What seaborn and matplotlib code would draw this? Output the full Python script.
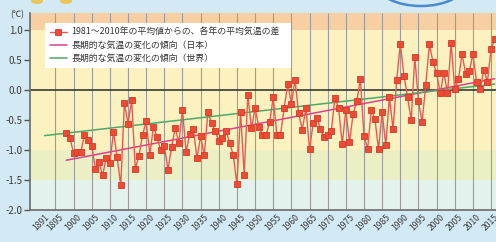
import numpy as np
import pandas as pd
import matplotlib
matplotlib.use("Agg")
import matplotlib.pyplot as plt
import seaborn as sns
from matplotlib.patches import Arc, Ellipse

# ---------------- data ----------------
years = list(range(1898, 2017))
anomaly = (
    [-0.72, -0.80]                                                        # 1898-1899
    + [-1.05, -1.03, -1.03, -0.75, -0.84, -0.93, -1.31, -1.20, -1.42, -1.13]  # 1900s
    + [-1.21, -0.70, -1.12, -1.59, -0.22, -0.56, -0.17, -1.31, -1.10, -0.75]  # 1910s
    + [-0.52, -1.08, -0.61, -0.78, -1.00, -0.93, -1.33, -0.95, -0.63, -0.88]  # 1920s
    + [-0.33, -1.04, -0.73, -0.65, -1.14, -0.77, -1.09, -0.37, -0.55, -0.68]  # 1930s
    + [-0.85, -0.80, -0.68, -0.88, -1.09, -1.57, -0.37, -1.41, -0.08, -0.64]  # 1940s
    + [-0.30, -0.61, -0.75, -0.75, -0.54, -0.12, -0.75, -0.75, -0.30, 0.10]   # 1950s
    + [-0.23, 0.17, -0.39, -0.66, -0.30, -0.99, -0.55, -0.46, -0.65, -0.79]   # 1960s
    + [-0.75, -0.68, -0.13, -0.30, -0.90, -0.33, -0.87, -0.40, -0.19, 0.19]   # 1970s
    + [-0.77, -0.98, -0.33, -0.48, -0.99, -0.37, -0.92, -0.12, -0.65, 0.16]   # 1980s
    + [0.77, 0.24, -0.12, -0.50, 0.55, -0.19, -0.53, 0.08, 0.76, 0.47]        # 1990s
    + [0.28, -0.05, 0.29, -0.05, 0.78, 0.01, 0.18, 0.60, 0.27, 0.31]          # 2000s
    + [0.60, 0.14, 0.01, 0.34, 0.14, 0.68, 0.85]                              # 2010-2016
)
japan_trend_years = [1898, 2016]
japan_trend = [-1.17, 0.19]
world_trend_years = [1892, 2016]
world_trend = [-0.76, 0.10]

tick_years = [1891, 1895, 1900, 1905, 1910, 1915, 1920, 1925, 1930, 1935, 1940,
              1945, 1950, 1955, 1960, 1965, 1970, 1975, 1980, 1985, 1990, 1995,
              2000, 2005, 2010, 2015]
grid_years = tick_years[1:]
y_ticks = [1.0, 0.5, 0.0, -0.5, -1.0, -1.5, -2.0]

label_data = "1981～2010年の平均値からの、各年の平均気温の差"
label_japan = "長期的な気温の変化の傾向（日本）"
label_world = "長期的な気温の変化の傾向（世界）"
unit_label = "(℃)"

df = pd.DataFrame({"year": years, "anomaly": anomaly})
df_jp = pd.DataFrame({"year": japan_trend_years, "value": japan_trend})
df_w = pd.DataFrame({"year": world_trend_years, "value": world_trend})

# ---------------- style ----------------
sns.set_theme(style="white")
plt.rcParams["font.family"] = ["Noto Sans CJK JP", "DejaVu Sans"]
plt.rcParams["axes.unicode_minus"] = False

W, H = 496, 242
fig = plt.figure(figsize=(W / 100, H / 100), dpi=100, facecolor="#d3eaf4")
ax = fig.add_axes([30 / W, 1 - 210 / H, 466 / W, (210 - 13.3) / H])
ax.set_xlim(1888.0, 2016.36)
ax.set_ylim(-2.0, 1.28)

# background bands
ax.axhspan(1.0, 1.28, color="#f8cfa2", zorder=0, lw=0)
ax.axhspan(-1.0, 1.0, color="#fbf2bf", zorder=0, lw=0)
ax.axhspan(-1.5, -1.0, color="#ecefc3", zorder=0, lw=0)
ax.axhspan(-2.0, -1.5, color="#e3f2ec", zorder=0, lw=0)

ax.vlines(grid_years, -2.0, 1.28, color="#9c9c9c", lw=0.8, zorder=1)
ax.axhline(0, color="#2a2a2a", lw=1.1, zorder=2)

sns.lineplot(data=df, x="year", y="anomaly", ax=ax, color="#e85a50", lw=1.0,
             marker="s", markersize=5.0, markerfacecolor="#ee4a34",
             markeredgecolor="#d23a28", markeredgewidth=0.6,
             label=label_data, zorder=4)
sns.lineplot(data=df_jp, x="year", y="value", ax=ax, color="#d9448a", lw=1.1,
             label=label_japan, zorder=3)
sns.lineplot(data=df_w, x="year", y="value", ax=ax, color="#4fa86a", lw=1.1,
             label=label_world, zorder=3)

# axes styling
for s in ["top", "right"]:
    ax.spines[s].set_visible(False)
for s in ["left", "bottom"]:
    ax.spines[s].set_color("#6b6b6b")
    ax.spines[s].set_linewidth(1.2)

ax.set_yticks(y_ticks)
ax.set_yticklabels([f"{v:.1f}" for v in y_ticks], fontsize=7, color="#3a3a3a")
ax.tick_params(axis="y", length=4, width=1, color="#555555", direction="out", pad=1.5, left=True)
ax.set_xticks(tick_years)
ax.set_xticklabels([str(y) for y in tick_years], fontsize=6.2, color="#3a3a3a",
                   rotation=45, ha="center", va="top")
ax.tick_params(axis="x", length=0, pad=2)
ax.set_xlabel("")
ax.set_ylabel("")

fig.text(10 / W, 1 - 15 / H, unit_label, fontsize=6, color="#333333", va="center", ha="left")

leg = ax.legend(loc="upper left", bbox_to_anchor=(0.032, 0.711, 0.528, 0.24),
                mode="expand", frameon=True, fancybox=False, facecolor="white",
                edgecolor="none", framealpha=1, fontsize=6.4, handlelength=1.9,
                handletextpad=0.55, borderpad=0.55, labelspacing=0.45,
                borderaxespad=0)
leg.set_zorder(10)
for t in leg.get_texts():
    t.set_color("#333333")

# decorations at top
fig.add_artist(Arc((421 / W, 1 + 16 / H), width=88 / W, height=44 / H,
                   transform=fig.transFigure, theta1=180, theta2=360,
                   color="#4a8bcf", lw=1.8))
for cx in (37, 66):
    fig.add_artist(Ellipse((cx / W, 1 - 1 / H), width=12 / W, height=6 / H,
                           transform=fig.transFigure, color="#e8c65a", lw=0))

fig.savefig("out.png", dpi=100, facecolor=fig.get_facecolor())
